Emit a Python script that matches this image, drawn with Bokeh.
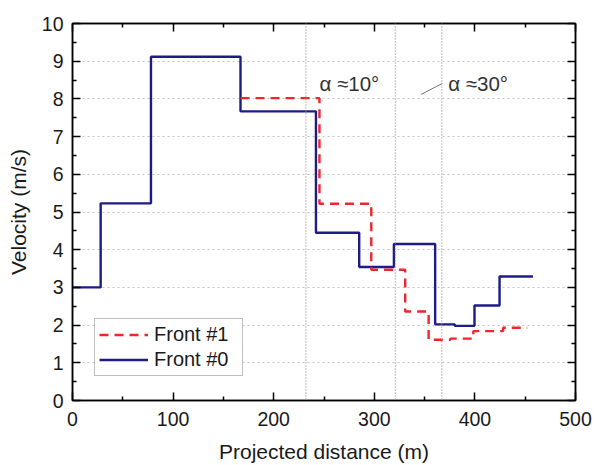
from bokeh.plotting import figure
from bokeh.models import (Range1d, FixedTicker, LinearAxis, Span, ColumnDataSource)
from bokeh.core.properties import value
from bokeh.embed import file_html
from bokeh.resources import INLINE

# ---- data ----
front0_edges = [0, 28, 78, 167, 242, 285, 319.5, 360.5, 380, 399.6, 424.5, 457.7]
front0_vel = [3.0, 5.23, 9.12, 7.67, 4.45, 3.54, 4.15, 2.02, 1.98, 2.52, 3.29]

front1_edges = [167, 245.5, 297, 330.7, 354, 375.6, 398.4, 428, 452]
front1_vel = [8.02, 5.22, 3.47, 2.36, 1.61, 1.64, 1.84, 1.93]

boundary_x = [232, 321, 367]

ann_x = [245.5, 373.5]
ann_y = [8.41, 8.41]
ann_text = ["α ≈10°", "α ≈30°"]
pointer_x = [346.6, 367.5]
pointer_y = [8.12, 8.41]

x_ticks = [0, 100, 200, 300, 400, 500]
x_minor = [50, 150, 250, 350, 450]
y_ticks = [0, 1, 2, 3, 4, 5, 6, 7, 8, 9, 10]
y_minor = [0.5, 1.5, 2.5, 3.5, 4.5, 5.5, 6.5, 7.5, 8.5, 9.5]


def steps(edges, vals):
    xs, ys = [], []
    for i, v in enumerate(vals):
        xs += [edges[i], edges[i + 1]]
        ys += [v, v]
    return xs, ys


FONT = "Liberation Sans"

p = figure(width=594, height=465, output_backend="svg", toolbar_location=None,
           x_range=Range1d(0, 500), y_range=Range1d(0, 10),
           min_border_left=72, min_border_right=19, min_border_top=23, min_border_bottom=65)
p.background_fill_color = "white"
p.border_fill_color = "white"
p.outline_line_color = "black"
p.outline_line_width = 1.5

p.xgrid.visible = False
p.ygrid.ticker = FixedTicker(ticks=y_ticks)
p.ygrid.grid_line_color = "#c4c4c4"
p.ygrid.grid_line_dash = "2 3"
p.ygrid.grid_line_width = 1

xt = FixedTicker(ticks=x_ticks, minor_ticks=x_minor)
yt = FixedTicker(ticks=y_ticks, minor_ticks=y_minor)


def style_axis(ax, ticker, labels=True):
    ax.ticker = ticker
    ax.axis_line_color = "black"
    ax.axis_line_width = 1.5
    ax.major_tick_line_color = "black"
    ax.major_tick_line_width = 1.5
    ax.minor_tick_line_color = "black"
    ax.minor_tick_line_width = 1.5
    ax.major_tick_in = 8
    ax.major_tick_out = 0
    ax.minor_tick_in = 4
    ax.minor_tick_out = 0
    if labels:
        ax.major_label_text_font = FONT
        ax.major_label_text_font_size = "19.5px"
        ax.major_label_text_color = "#1a1a1a"
        ax.axis_label_text_font = FONT
        ax.axis_label_text_font_size = "21px"
        ax.axis_label_text_font_style = "normal"
        ax.axis_label_text_color = "#1a1a1a"
    else:
        ax.major_label_text_alpha = 0
        ax.major_label_text_font_size = "1px"
        ax.major_label_standoff = 0


style_axis(p.xaxis[0], xt)
style_axis(p.yaxis[0], yt)
p.xaxis[0].axis_label = "Projected distance (m)"
p.yaxis[0].axis_label = "Velocity (m/s)"
p.xaxis[0].major_label_standoff = 11
p.xaxis[0].axis_label_standoff = 11
p.yaxis[0].major_label_standoff = 9
p.yaxis[0].axis_label_standoff = 9

top = LinearAxis()
style_axis(top, xt, labels=False)
p.add_layout(top, "above")
right = LinearAxis()
style_axis(right, yt, labels=False)
p.add_layout(right, "right")

for bx in boundary_x:
    p.add_layout(Span(location=bx, dimension="height", line_color="#9a9a9a",
                      line_dash="1 2", line_width=1.3))

x0, y0 = steps(front0_edges, front0_vel)
x1, y1 = steps(front1_edges, front1_vel)
r0 = p.line(x0, y0, line_color="#1c1c84", line_width=2.4, legend_label="Front #0")
r1 = p.line(x1, y1, line_color="#f0262b", line_width=2.4, line_dash="9 6",
            legend_label="Front #1")

p.line(pointer_x, pointer_y, line_color="#777777", line_width=1)
src = ColumnDataSource(dict(x=ann_x, y=ann_y, t=ann_text))
p.text(x="x", y="y", text="t", source=src, text_font=value(FONT),
       text_font_size=value("20.5px"), text_color="#333333",
       text_baseline="middle", text_align="left")

leg = p.legend[0]
leg.items = [leg.items[1], leg.items[0]]
leg.location = (22, 24)
leg.label_text_font = FONT
leg.label_text_font_size = "20px"
leg.label_text_color = "#1a1a1a"
leg.glyph_width = 49
leg.glyph_height = 21
leg.label_height = 21
leg.label_width = 84
leg.label_standoff = 6
leg.padding = 4
leg.spacing = 2
leg.margin = 0
leg.border_line_color = "#808080"
leg.border_line_width = 1.5
leg.background_fill_alpha = 1

open("out.html", "w").write(file_html(p, INLINE))
